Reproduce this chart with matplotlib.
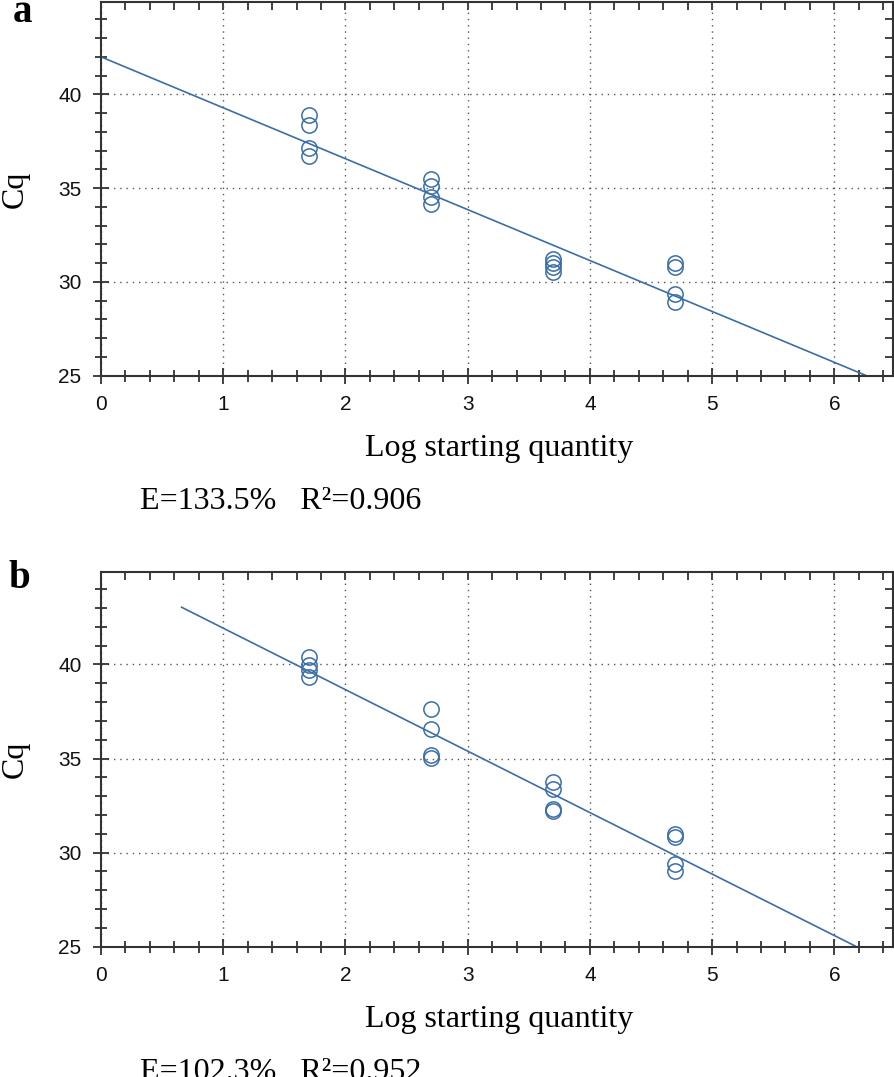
import numpy as np
import matplotlib
matplotlib.use("Agg")
import matplotlib.pyplot as plt
from matplotlib.ticker import MultipleLocator

# data
x_a = [1.7, 1.7, 1.7, 1.7, 2.7, 2.7, 2.7, 2.7, 3.7, 3.7, 3.7, 3.7, 4.7, 4.7, 4.7, 4.7]
cq_a = [38.92, 38.37, 37.13, 36.70, 35.50, 35.14, 34.52, 34.13,
        31.24, 31.01, 30.80, 30.53, 31.03, 30.80, 29.38, 28.94]
x_b = [1.7, 1.7, 1.7, 1.7, 2.7, 2.7, 2.7, 2.7, 3.7, 3.7, 3.7, 3.7, 4.7, 4.7, 4.7, 4.7]
cq_b = [40.38, 39.97, 39.71, 39.35, 37.66, 36.55, 35.20, 35.02,
        33.77, 33.38, 32.31, 32.19, 31.01, 30.85, 29.42, 29.01]

# fit lines (slope, intercept) and x range they are drawn over
fit_a = (-2.715, 42.0)
fit_b = (-3.268, 45.2)
span_a = [0.0, 6.3]
span_b = [0.66, 6.3]

labels = ["a", "b"]
stats = ["E=133.5%   R²=0.906", "E=102.3%   R²=0.952"]

blue = "#3a6ea8"
spine_col = "#333333"

plt.rcParams['font.family'] = ['Liberation Sans', 'DejaVu Sans']

fig = plt.figure(figsize=(8.95, 10.77), dpi=100)

# axes boxes in figure fraction
boxes = [[0.1128, 0.6512, 0.885, 0.3465],
         [0.1128, 0.1210, 0.885, 0.3476]]
letter_pos = [(0.0145, 0.9796), (0.009, 0.454)]

panels = [(x_a, cq_a, fit_a, span_a), (x_b, cq_b, fit_b, span_b)]

for i, (xs, ys, fit, span) in enumerate(panels):
    ax = fig.add_axes(boxes[i])
    ax.set_xlim(0, 6.48)
    ax.set_ylim(25, 44.9)

    # fit line, clipped at the axes
    lx = np.array(span)
    ax.plot(lx, fit[1] + fit[0] * lx, color=blue, lw=1.2, zorder=2)
    ax.plot(xs, ys, 'o', mfc='none', mec=blue, ms=11, mew=1.1, zorder=3)

    ax.xaxis.set_major_locator(MultipleLocator(1))
    ax.xaxis.set_minor_locator(MultipleLocator(0.2))
    ax.yaxis.set_major_locator(MultipleLocator(5))
    ax.yaxis.set_minor_locator(MultipleLocator(1))
    ax.tick_params(which='both', direction='inout', colors=spine_col,
                   labelcolor='#111111', width=1.3)
    ax.tick_params(which='major', length=12, labelsize=15)
    ax.tick_params(axis='x', which='major', pad=8)
    ax.tick_params(axis='y', which='major', pad=8)
    ax.tick_params(which='minor', length=8)

    # inward ticks on top and right
    top = ax.secondary_xaxis('top')
    top.xaxis.set_major_locator(MultipleLocator(1))
    top.xaxis.set_minor_locator(MultipleLocator(0.2))
    top.tick_params(which='both', direction='in', length=6, width=1.3,
                    colors=spine_col, labeltop=False)
    right = ax.secondary_yaxis('right')
    right.yaxis.set_major_locator(MultipleLocator(5))
    right.yaxis.set_minor_locator(MultipleLocator(1))
    right.tick_params(which='both', direction='in', length=6, width=1.3,
                      colors=spine_col, labelright=False)
    top.spines['top'].set_visible(False)
    right.spines['right'].set_visible(False)

    for s in ax.spines.values():
        s.set_color(spine_col)
        s.set_linewidth(1.5)

    ax.grid(True, which='major', color='#555555', linestyle=(0, (1, 3.5)), lw=1.0)

    ax.set_ylabel("Cq", fontfamily='Liberation Serif', fontsize=23)
    ax.yaxis.set_label_coords(-0.09, 0.5)
    ax.set_xlabel("Log starting quantity", fontfamily='Liberation Serif', fontsize=23)
    ax.xaxis.set_label_coords(0.5025, -0.155)

    # panel letter and efficiency text
    fig.text(letter_pos[i][0], letter_pos[i][1], labels[i],
             fontfamily='Liberation Serif', fontweight='bold', fontsize=28,
             va='baseline', ha='left')
    fig.text(0.156, boxes[i][1] - 0.1235, stats[i], fontfamily='Liberation Serif',
             fontsize=23, va='baseline', ha='left')

fig.savefig("out.png", dpi=100)
